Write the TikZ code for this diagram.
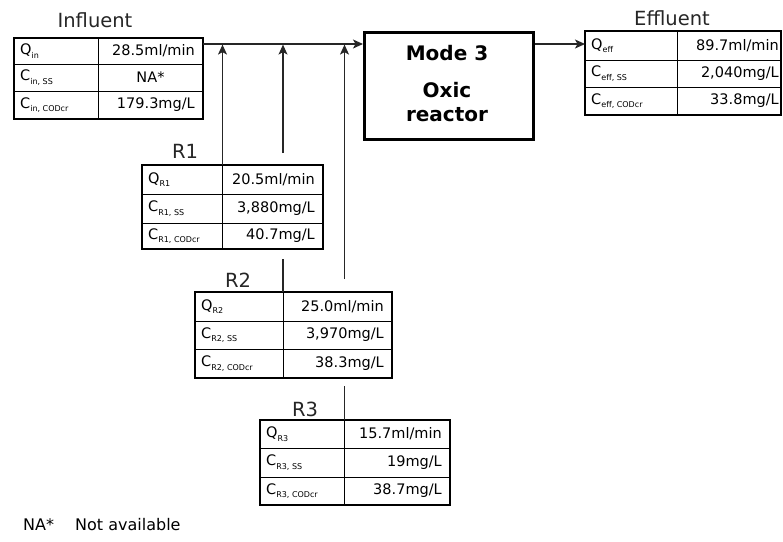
\documentclass[tikz,border=0pt]{standalone}
\usepackage{fontspec}
\setmainfont{DejaVu Sans}
\usetikzlibrary{arrows.meta,calc}
\newcommand\sbs[1]{\raisebox{-0.45ex}{\fontsize{8}{8}\selectfont #1}}
% #1 name, #2 left, #3 top, #4 right, #5 bottom, #6 column, #7 row line 1, #8 row line 2
\newcommand\mytable[8]{%
  \node[tbl, minimum width={(#4-#2)*1pt}, minimum height={(#5-#3)*1pt}] (#1) at (#2,#3) {};
  \draw[grid] (#6,#3) -- (#6,#5);
  \draw[grid] (#2,#7) -- (#4,#7);
  \draw[grid] (#2,#8) -- (#4,#8);
  \draw[line width=2pt] (#1.north west) rectangle (#1.south east);
  \coordinate (#1-top) at (#6,#3);
  \coordinate (#1-l1) at ({#2+6},{(#3+#7)/2});
  \coordinate (#1-l2) at ({#2+6},{(#7+#8)/2});
  \coordinate (#1-l3) at ({#2+6},{(#8+#5)/2});
  \coordinate (#1-r1) at ({#4-8},{(#3+#7)/2});
  \coordinate (#1-r2) at ({#4-8},{(#7+#8)/2});
  \coordinate (#1-r3) at ({#4-8},{(#8+#5)/2});
  \coordinate (#1-m2) at ({(#6+#4)/2},{(#7+#8)/2});
}
\begin{document}
\begin{tikzpicture}[x=1pt,y=-1pt,
  tbl/.style={fill=white, inner sep=0pt, outer sep=0pt, anchor=north west},
  grid/.style={line width=1pt},
  lc/.style={font=\fontsize{14.5}{15}\selectfont, inner sep=0pt, anchor=west},
  rc/.style={font=\fontsize{14.5}{15}\selectfont, inner sep=0pt, anchor=east},
  ttl/.style={font=\fontsize{19.5}{20}\selectfont, text=black!85, inner sep=0pt},
  bold/.style={font=\fontsize{20}{20}\selectfont\bfseries, inner sep=0pt},
  conn/.style={line width=1.2pt, draw=black!85},
  arr/.style={conn, -{Stealth[length=10pt,width=9pt,inset=2.5pt]}}]
\useasboundingbox (0,0) rectangle (783,541);

% reactor
\node[draw, line width=2.5pt, minimum width=169pt, minimum height=107pt, anchor=north west, inner sep=0pt] (reac) at (363,31) {};
\node[bold] (m3) at (447,53) {Mode 3};
\node[bold] (ox) at (447,90) {Oxic};
\node[bold] (rct) at (447,115) {reactor};

% tables
\mytable{inf}{14}{38}{203}{119}{98}{64}{91}
\mytable{eff}{585}{31}{781}{115}{677}{60}{87}
\mytable{ra}{142}{165}{323}{249}{222.5}{194}{223}
\mytable{rb}{195}{292}{392}{378}{283}{321}{349}
\mytable{rc3}{260}{420}{450}{505}{344.5}{448}{477}

\coordinate (mainL) at (203,44);
\draw[arr] (mainL) -- (mainL -| reac.west);
\draw[arr] (mainL -| reac.east) -- (mainL -| eff.west);

% recycle lines
\coordinate (g2a) at (283,153);
\coordinate (g2b) at (283,259);
\coordinate (g3a) at (344.5,279);
\coordinate (g3b) at (344.5,386);
\draw[arr, shorten >=0.6pt] (ra-top) -- (ra-top |- mainL);
\draw[conn] (rb-top) -- (g2b);
\draw[arr, shorten >=0.6pt] (g2a) -- (g2a |- mainL);
\draw[conn] (rc3-top) -- (g3b);
\draw[arr, shorten >=0.6pt] (g3a) -- (g3a |- mainL);

% titles
\node[ttl] (tinf) at (95,20) {Influent};
\node[ttl] (teff) at (672,18) {Effluent};
\node[ttl] (tra) at (185,151) {R1};
\node[ttl] (trb) at (238,280) {R2};
\node[ttl] (trc) at (305,409) {R3};

% cell texts
\node[lc] at (inf-l1) {Q\sbs{in}};
\node[lc] at (inf-l2) {C\sbs{in, SS}};
\node[lc] at (inf-l3) {C\sbs{in, CODcr}};
\node[rc] at (inf-r1) {28.5ml/min};
\node[lc, anchor=center] at (inf-m2) {NA*};
\node[rc] at (inf-r3) {179.3mg/L};

\node[lc] at (eff-l1) {Q\sbs{eff}};
\node[lc] at (eff-l2) {C\sbs{eff, SS}};
\node[lc] at (eff-l3) {C\sbs{eff, CODcr}};
\node[rc] at ($(eff-r1)+(6,0)$) {89.7ml/min};
\node[rc] at ($(eff-r2)+(6,0)$) {2,040mg/L};
\node[rc] at ($(eff-r3)+(6,0)$) {33.8mg/L};

\node[lc] at (ra-l1) {Q\sbs{R1}};
\node[lc] at (ra-l2) {C\sbs{R1, SS}};
\node[lc] at (ra-l3) {C\sbs{R1, CODcr}};
\node[rc] at (ra-r1) {20.5ml/min};
\node[rc] at (ra-r2) {3,880mg/L};
\node[rc] at (ra-r3) {40.7mg/L};

\node[lc] at (rb-l1) {Q\sbs{R2}};
\node[lc] at (rb-l2) {C\sbs{R2, SS}};
\node[lc] at (rb-l3) {C\sbs{R2, CODcr}};
\node[rc] at (rb-r1) {25.0ml/min};
\node[rc] at (rb-r2) {3,970mg/L};
\node[rc] at (rb-r3) {38.3mg/L};

\node[lc] at (rc3-l1) {Q\sbs{R3}};
\node[lc] at (rc3-l2) {C\sbs{R3, SS}};
\node[lc] at (rc3-l3) {C\sbs{R3, CODcr}};
\node[rc] at (rc3-r1) {15.7ml/min};
\node[rc] at (rc3-r2) {19mg/L};
\node[rc] at (rc3-r3) {38.7mg/L};

% footnote
\node[lc, font=\fontsize{16}{16}\selectfont] (na) at (23,525) {NA*};
\node[lc, font=\fontsize{16}{16}\selectfont] (nadesc) at (75,525) {Not available};
\end{tikzpicture}
\end{document}
